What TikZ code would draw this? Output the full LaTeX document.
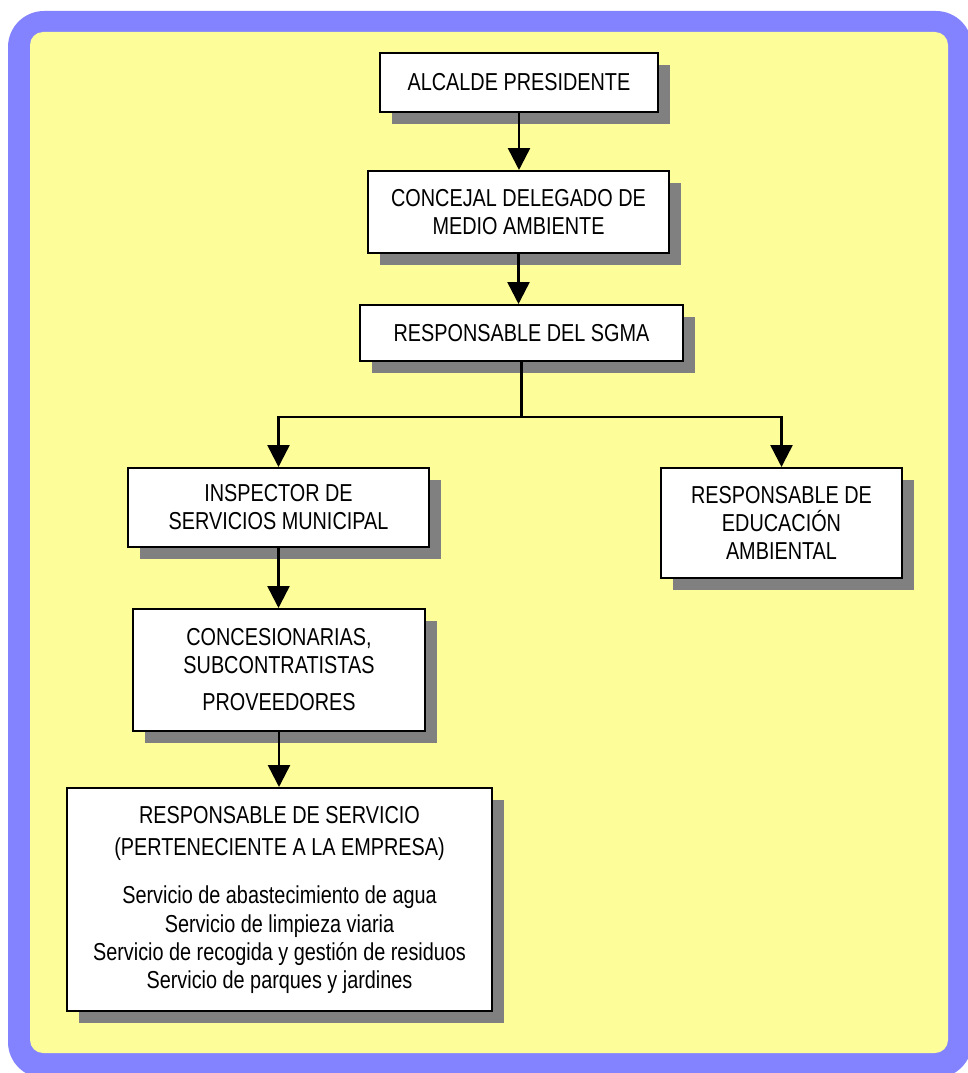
\documentclass[tikz,border=0pt]{standalone}
\usepackage{fontspec}
\setmainfont{Liberation Sans}[FakeStretch=0.81]
\usetikzlibrary{arrows.meta,shadows}
\definecolor{frameblue}{RGB}{131,131,255}
\definecolor{bgyellow}{RGB}{253,253,153}
\definecolor{shadowgray}{RGB}{128,128,128}
\begin{document}
\begin{tikzpicture}[x=1pt,y=-1pt,
  box/.style={draw=black, line width=2pt, fill=white, inner sep=0pt, align=center,
    font=\fontsize{24.5}{28}\selectfont,
    drop shadow={shadow xshift=12pt, shadow yshift=-12pt, fill=shadowgray, opacity=1}},
  conn/.style={line width=2.5pt, draw=black},
  arr/.style={conn, -{Triangle[width=22pt,length=22pt]}}]
\useasboundingbox (0,0) rectangle (968,1073);
% background frame
\fill[frameblue, rounded corners=36pt] (8,11) rectangle (972,1078);
\fill[bgyellow, rounded corners=13pt] (30,32) rectangle (948,1053);
% boxes
\node[box, minimum width=278pt, minimum height=59pt] (A) at (519,82.5) {ALCALDE PRESIDENTE};
\node[box, minimum width=301pt, minimum height=82pt] (B) at (518.5,212) {CONCEJAL DELEGADO DE\\MEDIO AMBIENTE};
\node[box, minimum width=323pt, minimum height=56pt] (C) at (521.5,333) {RESPONSABLE DEL SGMA};
\node[box, minimum width=301pt, minimum height=79pt] (D) at (278.5,507.5) {INSPECTOR DE\\SERVICIOS MUNICIPAL};
\node[box, minimum width=241pt, minimum height=110pt] (E) at (781.5,523) {RESPONSABLE DE\\EDUCACIÓN\\AMBIENTAL};
\node[box, minimum width=292pt, minimum height=122pt] (F) at (279,670) {CONCESIONARIAS,\\SUBCONTRATISTAS\\[9pt]PROVEEDORES};
\node[box, minimum width=425pt, minimum height=223pt] (G) at (279.5,899.5) {RESPONSABLE DE SERVICIO\\[4pt](PERTENECIENTE A LA EMPRESA)\\[20pt]Servicio de abastecimiento de agua\\[1pt]Servicio de limpieza viaria\\Servicio de recogida y gestión de residuos\\Servicio de parques y jardines};
% connectors
\draw[arr] (A.south) -- (A.south |- B.north);
\draw[arr] (B.south) -- (B.south |- C.north);
\coordinate (J) at (521.5,417);
\draw[conn] (C.south) -- (J);
\draw[arr] (J) -| (D.north);
\draw[arr] (J) -| (E.north);
\draw[arr] (D.south) -- (D.south |- F.north);
\draw[arr] (F.south) -- (F.south |- G.north);
\end{tikzpicture}
\end{document}
